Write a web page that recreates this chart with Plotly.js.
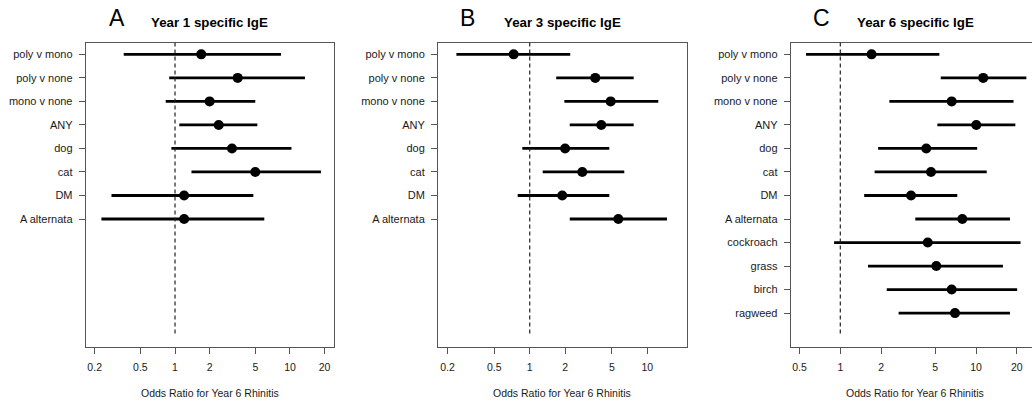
<!DOCTYPE html>
<html>
<head>
<meta charset="utf-8">
<script src="https://cdn.plot.ly/plotly-3.0.1.min.js"></script>
<style>html,body{margin:0;padding:0;background:#fff;}#chart{width:1032px;height:406px;}</style>
</head>
<body>
<div id="chart"></div>
<script>
// Row labels (shared order, top to bottom)
const labelsAll = ["poly v mono","poly v none","mono v none","ANY","dog","cat","DM","A alternata","cockroach","grass","birch","ragweed"];

// Year 1 specific IgE (panel A)
const y1Labels = ["poly v mono","poly v none","mono v none","ANY","dog","cat","DM","A alternata"];
const y1OR    = [1.69, 3.51, 2.00, 2.40, 3.13, 4.99, 1.20, 1.20];
const y1Lower = [0.358, 0.89, 0.83, 1.09, 0.93, 1.39, 0.28, 0.229];
const y1Upper = [8.35, 13.5, 4.99, 5.2, 10.3, 18.6, 4.8, 5.98];

// Year 3 specific IgE (panel B)
const y3Labels = ["poly v mono","poly v none","mono v none","ANY","dog","cat","DM","A alternata"];
const y3OR    = [0.73, 3.61, 4.88, 4.06, 2.00, 2.80, 1.89, 5.67];
const y3Lower = [0.238, 1.68, 1.97, 2.19, 0.865, 1.29, 0.79, 2.19];
const y3Upper = [2.21, 7.66, 12.4, 7.66, 4.75, 6.37, 4.75, 14.7];

// Year 6 specific IgE (panel C)
const y6Labels = ["poly v mono","poly v none","mono v none","ANY","dog","cat","DM","A alternata","cockroach","grass","birch","ragweed"];
const y6OR    = [1.70, 11.3, 6.62, 10.05, 4.30, 4.66, 3.32, 7.93, 4.41, 5.10, 6.62, 7.0];
const y6Lower = [0.559, 5.5, 2.30, 5.19, 1.90, 1.79, 1.50, 3.57, 0.90, 1.60, 2.20, 2.69];
const y6Upper = [5.37, 23.5, 18.9, 19.5, 10.2, 12.0, 7.28, 17.8, 21.3, 15.8, 20.1, 17.8];

const tickA = [0.2, 0.5, 1, 2, 5, 10, 20];
const tickB = [0.2, 0.5, 1, 2, 5, 10];
const tickC = [0.5, 1, 2, 5, 10, 20];

const panelLetters = ["A", "B", "C"];
const panelTitles = ["Year 1 specific IgE", "Year 3 specific IgE", "Year 6 specific IgE"];
const xTitle = "Odds Ratio for Year 6 Rhinitis";

const W = 1032, H = 406;
const FONT = "Liberation Sans, Arial, Helvetica, sans-serif";

function mkTrace(labels, or, lo, hi, xa, ya) {
  const yPos = labels.map(l => labelsAll.indexOf(l) + 1);
  return {
    type: "scatter", mode: "markers",
    x: or, y: yPos, xaxis: xa, yaxis: ya,
    marker: {color: "#000", size: 10, symbol: "circle"},
    error_x: {
      type: "data", symmetric: false,
      array: or.map((v, i) => hi[i] - v),
      arrayminus: or.map((v, i) => v - lo[i]),
      color: "#000", thickness: 2.8, width: 0
    },
    hoverinfo: "skip", showlegend: false, cliponaxis: false
  };
}

const data = [
  mkTrace(y1Labels, y1OR, y1Lower, y1Upper, "x", "y"),
  mkTrace(y3Labels, y3OR, y3Lower, y3Upper, "x2", "y2"),
  mkTrace(y6Labels, y6OR, y6Lower, y6Upper, "x3", "y3")
];

const yDom = [1 - 347.2 / H, 1 - 42.6 / H];
const xDoms = [[85.7 / W, 334 / W], [438 / W, 686.7 / W], [790.7 / W, 1.0]];
const xRanges = [[-0.777, 1.383], [-0.780, 1.335], [-0.3655, 1.4127]];
const ticks = [tickA, tickB, tickC];

function xAxis(i) {
  return {
    type: "log", domain: xDoms[i], range: xRanges[i],
    anchor: i === 0 ? "y" : "y" + (i + 1),
    tickvals: ticks[i], ticktext: ticks[i].map(String),
    ticks: "outside", ticklen: 6, tickwidth: 1, tickcolor: "#555",
    showline: true, linecolor: "#555", linewidth: 1, mirror: true,
    showgrid: false, zeroline: false,
    tickfont: {family: FONT, size: 10.5, color: "#1a1a1a"},
    ticklabelstandoff: 4,
    fixedrange: true
  };
}
function yAxis(i) {
  const n = i === 2 ? 12 : 8;
  return {
    domain: yDom, range: [13.45, 0.5],
    anchor: i === 0 ? "x" : "x" + (i + 1),
    tickvals: labelsAll.slice(0, n).map((_, k) => k + 1),
    ticktext: labelsAll.slice(0, n),
    ticks: "outside", ticklen: 6, tickwidth: 1, tickcolor: "#555",
    showline: true, linecolor: "#555", linewidth: 1, mirror: i !== 2,
    showgrid: false, zeroline: false,
    tickfont: {family: FONT, size: 11, color: "#1a1a1a"},
    ticklabelstandoff: 4,
    fixedrange: true
  };
}

const layout = {
  width: W, height: H,
  margin: {l: 0, r: 0, t: 0, b: 0},
  paper_bgcolor: "#fff", plot_bgcolor: "#fff",
  showlegend: false,
  xaxis: xAxis(0), yaxis: yAxis(0),
  xaxis2: xAxis(1), yaxis2: yAxis(1),
  xaxis3: xAxis(2), yaxis3: yAxis(2),
  shapes: [0, 1, 2].map(i => ({
    type: "line", xref: i === 0 ? "x" : "x" + (i + 1), yref: i === 0 ? "y" : "y" + (i + 1),
    x0: 1, x1: 1, y0: 0.5, y1: 13,
    line: {color: "#222", width: 1.2, dash: "4px,3px"}
  })),
  annotations: []
};

const letterX = [116.7, 467, 821];
const titleX = [209.5, 562.5, 915];
for (let i = 0; i < 3; i++) {
  layout.annotations.push({
    text: panelLetters[i], xref: "paper", yref: "paper",
    x: letterX[i] / W, y: 1 - 18.5 / H, xanchor: "center", yanchor: "middle",
    showarrow: false, font: {family: FONT, size: 23, color: "#000"}
  });
  layout.annotations.push({
    text: "<b>" + panelTitles[i] + "</b>", xref: "paper", yref: "paper",
    x: titleX[i] / W, y: 1 - 22.5 / H, xanchor: "center", yanchor: "middle",
    showarrow: false, font: {family: FONT, size: 13.3, color: "#000"}
  });
  const xc = (xDoms[i][0] * W + (i === 2 ? 1039.3 : xDoms[i][1] * W)) / 2;
  layout.annotations.push({
    text: xTitle, xref: "paper", yref: "paper",
    x: xc / W, y: 1 - 392.7 / H, xanchor: "center", yanchor: "middle",
    showarrow: false, font: {family: FONT, size: 10.5, color: "#1a1a1a"}
  });
}

Plotly.newPlot("chart", data, layout, {displayModeBar: false, staticPlot: true});
</script>
</body>
</html>
